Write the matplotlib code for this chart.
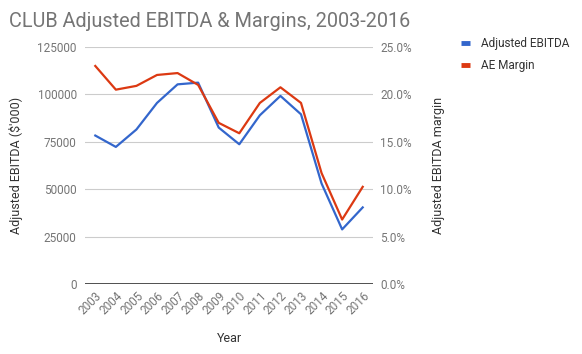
import matplotlib
matplotlib.use("Agg")
import matplotlib.pyplot as plt
from matplotlib.lines import Line2D
from matplotlib.ticker import FuncFormatter

years = ["2003", "2004", "2005", "2006", "2007", "2008", "2009", "2010",
         "2011", "2012", "2013", "2014", "2015", "2016"]
ebitda = [78300, 72300, 81500, 95500, 105300, 106200, 82500, 73700,
          89000, 99200, 89500, 53000, 28800, 40400]
margin = [23.0, 20.5, 20.9, 22.05, 22.25, 21.0, 17.0, 15.9,
          19.1, 20.75, 19.1, 11.7, 6.8, 10.25]
left_ticks = [0, 25000, 50000, 75000, 100000, 125000]
right_ticks = [0, 5, 10, 15, 20, 25]

plt.rcParams['font.family'] = ['Roboto', 'DejaVu Sans']

W, H = 582, 354
fig = plt.figure(figsize=(W / 100, H / 100), dpi=100)
ax = fig.add_axes([85 / W, 1 - 284 / H, (373 - 85) / W, (284 - 47) / H])
ax2 = ax.twinx()

x = list(range(len(years)))
blue = '#3366CC'
red = '#DC3912'
ax.plot(x, ebitda, color=blue, lw=1.6, zorder=3, solid_joinstyle='round')
ax2.plot(x, margin, color=red, lw=1.6, zorder=3, solid_joinstyle='round')

ax.set_xlim(-0.5, len(years) - 0.5)
ax.set_ylim(0, 125000)
ax2.set_ylim(0, 25)
ax.set_yticks(left_ticks)
ax.set_yticklabels([str(v) for v in left_ticks])
ax2.set_yticks(right_ticks)
ax2.yaxis.set_major_formatter(FuncFormatter(lambda v, p: f"{v:.1f}%"))

for a in (ax, ax2):
    for s in a.spines.values():
        s.set_visible(False)
    a.tick_params(length=0, colors='#757575', labelsize=8.5)

ax.grid(axis='y', color='#cccccc', lw=0.8)
ax.set_axisbelow(True)
ax.axhline(0, color='#333333', lw=1.2, zorder=2)
ax.tick_params(axis='y', pad=6)
ax2.tick_params(axis='y', pad=5)

ax.set_xticks(x)
ax.set_xticklabels(years, rotation=45, ha='right', rotation_mode='anchor')
ax.tick_params(axis='x', pad=4)

lab_kw = dict(color='#333333', fontsize=9)
ax.set_ylabel("Adjusted EBITDA ($'000)", **lab_kw)
ax.yaxis.set_label_coords(-0.215, 0.5)
ax2.set_ylabel("Adjusted EBITDA margin", **lab_kw)
ax2.yaxis.set_label_coords(1.205, 0.5)
ax.set_xlabel("Year", **lab_kw)
ax.xaxis.set_label_coords(0.5, -0.2025)

fig.text(9 / W, 1 - 27 / H, "CLUB Adjusted EBITDA & Margins, 2003-2016",
         fontsize=14.3, color='#757575', ha='left', va='baseline')

handles = [Line2D([], [], color=blue, lw=3.5, solid_capstyle='butt'),
           Line2D([], [], color=red, lw=3.5, solid_capstyle='butt')]
fig.legend(handles, ["Adjusted EBITDA", "AE Margin"], loc='upper left',
           bbox_to_anchor=(461 / W, 1 - 37 / H), frameon=False,
           handlelength=0.8, handletextpad=0.9, labelspacing=0.75,
           fontsize=8.5, labelcolor='#333333', borderaxespad=0, borderpad=0)

fig.savefig("out.png", dpi=100)
